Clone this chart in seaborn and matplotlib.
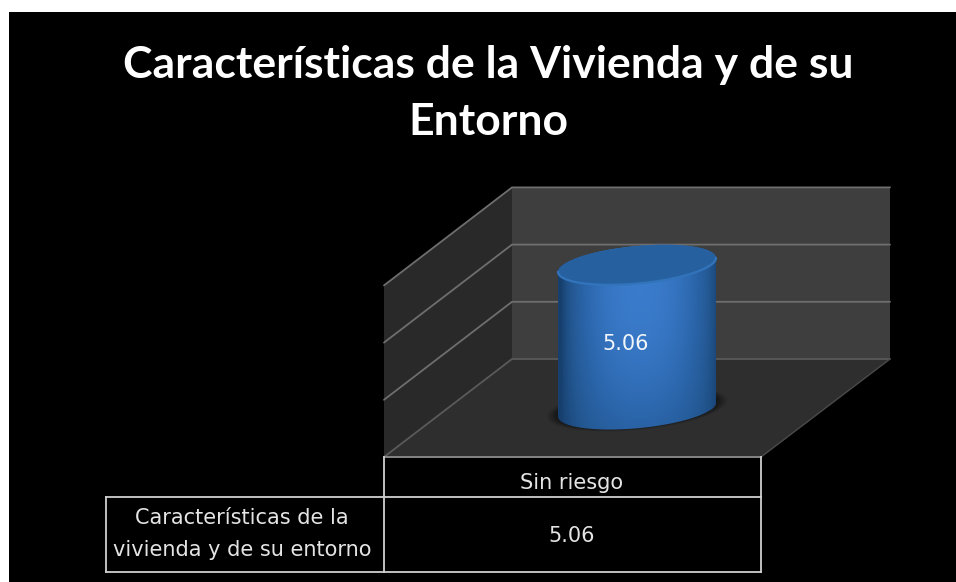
import numpy as np
import matplotlib
matplotlib.use("Agg")
import matplotlib.pyplot as plt
from matplotlib.colors import LinearSegmentedColormap
from matplotlib.patches import Polygon, PathPatch
from matplotlib.path import Path
import pandas as pd
import seaborn as sns

# Chart content
title_lines = ["Características de la Vivienda y de su", "Entorno"]
categories = ["Sin riesgo"]
values = [5.06]
series_label = ["Características de la", "vivienda y de su entorno"]
axis_ticks = [0, 2, 4, 6]

W, H = 956, 582
sns.set_theme(style="white")
plt.rcParams["font.family"] = ["DejaVu Sans"]
fig = plt.figure(figsize=(W / 100, H / 100), dpi=100, facecolor="white")

# Page-sized canvas in pixel coordinates for the frame, walls and table
bg = fig.add_axes([0, 0, 1, 1], zorder=1)
bg.set_xlim(0, W)
bg.set_ylim(H, 0)
bg.axis("off")
bg.add_patch(Polygon([(9, 12), (W, 12), (W, H), (9, H)], fc="black", ec="none"))

# Perspective box
FL, FR, BL, BR = (384, 457), (761, 457), (512, 359), (890, 359)
UNIT = 28.6
top_px = UNIT * axis_ticks[-1]
bg.add_patch(Polygon([BL, BR, (BR[0], BR[1] - top_px), (BL[0], BL[1] - top_px)], fc="#3e3e3e", ec="none"))
bg.add_patch(Polygon([FL, BL, (BL[0], BL[1] - top_px), (FL[0], FL[1] - top_px)], fc="#292929", ec="none"))
bg.add_patch(Polygon([FL, FR, BR, BL], fc="#2e2e2e", ec="none"))
for t in axis_ticks:
    dy = UNIT * t
    color = "#6e6e6e" if t else "#5a5a5a"
    bg.plot([FL[0], BL[0], BR[0]], [FL[1] - dy, BL[1] - dy, BR[1] - dy], color=color, lw=1.3, solid_joinstyle="miter")
bg.plot([FL[0], FR[0], BR[0]], [FL[1], FR[1], BR[1]], color="#4a4a4a", lw=1.0)

# Value axes placed on the mid-depth plane, so the bar height follows the data
BASE_Y = 409.5
CX = 637
plane_w = FR[0] - FL[0]
ax = fig.add_axes(
    [(CX - plane_w / 2) / W, (H - BASE_Y) / H, plane_w / W, top_px / H],
    zorder=2,
)
ax.patch.set_alpha(0)
df = pd.DataFrame({"categoria": categories, "valor": values})
sns.barplot(data=df, x="categoria", y="valor", ax=ax, width=158 / plane_w, color="#2a66ad", saturation=1, linewidth=0)
ax.set_xlim(-0.5, 0.5)
ax.set_ylim(axis_ticks[0], axis_ticks[-1])
ax.axis("off")

# Cylinder outline derived from the bar rectangle
bar = ax.patches[0]
fig.canvas.draw()
to_px = ax.transData + bg.transData.inverted()
(x0, y_base), (x1, y_top) = to_px.transform(
    [(bar.get_x(), 0), (bar.get_x() + bar.get_width(), bar.get_height())]
)
cx = (x0 + x1) / 2
rx = (x1 - x0) / 2
TILT, RY = 7.0, 18.8


def rim(cy, t, scale=1.0):
    return np.c_[cx + scale * rx * np.cos(t), cy - scale * (TILT * np.cos(t) + RY * np.sin(t))]


upper = rim(y_top, np.linspace(np.pi, 0, 80))
lower = rim(y_base, np.linspace(0, -np.pi, 80))
body = Path(np.vstack([upper, lower, upper[:1]]), closed=True)
cap = Path(np.vstack([rim(y_top, np.linspace(0, 2 * np.pi, 160))]), closed=True)
bar.set_clip_box(fig.bbox)
bar.set_clip_path(PathPatch(body, transform=bg.transData))

# Contact shadow beneath the base
for scale, alpha in [(1.14, 0.18), (1.10, 0.3), (1.06, 0.5), (1.02, 0.7)]:
    pts = rim(y_base - 1, np.linspace(0, 2 * np.pi, 160), scale)
    bg.add_patch(Polygon(pts, fc="#151515", ec="none", alpha=alpha, zorder=1.5))

# Cylinder shading: bright towards the upper middle, darker at the sides and base
shade = LinearSegmentedColormap.from_list("body", ["#173f6e", "#22568f", "#2c67ad", "#3a7bcb"])
gx = np.linspace(0, 1, 200)
gy = np.linspace(0, 1, 200)
X, Y = np.meshgrid(gx, gy)
across = np.clip(1 - (np.abs(X - 0.52) / 0.50) ** 2.2, 0, 1)
down = np.clip(1 - ((Y - 0.22) / 0.95) ** 2, 0, 1)
img = ax.imshow(
    across ** 0.75 * (0.35 + 0.65 * down),
    cmap=shade,
    vmin=0,
    vmax=1,
    extent=(x0, x1, y_base + RY + 3, y_top - RY - 3),
    transform=bg.transData,
    aspect="auto",
    interpolation="bilinear",
    zorder=3,
)
img.set_clip_box(fig.bbox)
img.set_clip_path(PathPatch(body, transform=bg.transData))
ax.set_xlim(-0.5, 0.5)
ax.set_ylim(axis_ticks[0], axis_ticks[-1])

# Top face with its lighter front rim
ax.add_patch(PathPatch(cap, transform=bg.transData, fc="#27609f", ec="none", zorder=4, clip_on=False))
front = rim(y_top, np.linspace(np.pi, 2 * np.pi, 80))
ax.plot(front[:, 0], front[:, 1], transform=bg.transData, color="#3274bb", lw=1.6, zorder=5, clip_on=False)
ax.text(626, 344, f"{values[0]:.2f}", transform=bg.transData, color="#f2f6fb", fontsize=15, ha="center", va="center", zorder=6)

# Data table under the plot
TX0, TX1, TX2 = 106, 384, 761
TY0, TY1, TY2 = 457, 497, 572
line = dict(color="#d0d0d0", lw=1.3, solid_capstyle="projecting", zorder=3)
bg.plot([TX1, TX2], [TY0, TY0], **{**line, "color": "#8a8a8a"})
bg.plot([TX0, TX2], [TY1, TY1], **line)
bg.plot([TX0, TX2], [TY2, TY2], **line)
bg.plot([TX0, TX0], [TY1, TY2], **line)
bg.plot([TX1, TX1], [TY0, TY2], **line)
bg.plot([TX2, TX2], [TY0, TY2], **line)
table_text = dict(color="#e4e4e4", fontsize=15, ha="center", va="center", zorder=3)
bg.text(572, 483, categories[0], **table_text)
bg.text(572, 536, f"{values[0]:.2f}", **table_text)
bg.text(242, 518, series_label[0], **table_text)
bg.text(242, 550, series_label[1], **table_text)

# Two-line heading
for line_text, y in zip(title_lines, (65, 122)):
    bg.text(488, y, line_text, color="white", fontsize=32, fontweight="bold", family="Lato", ha="center", va="center", zorder=3)

fig.savefig("out.png", dpi=100, facecolor="white")
